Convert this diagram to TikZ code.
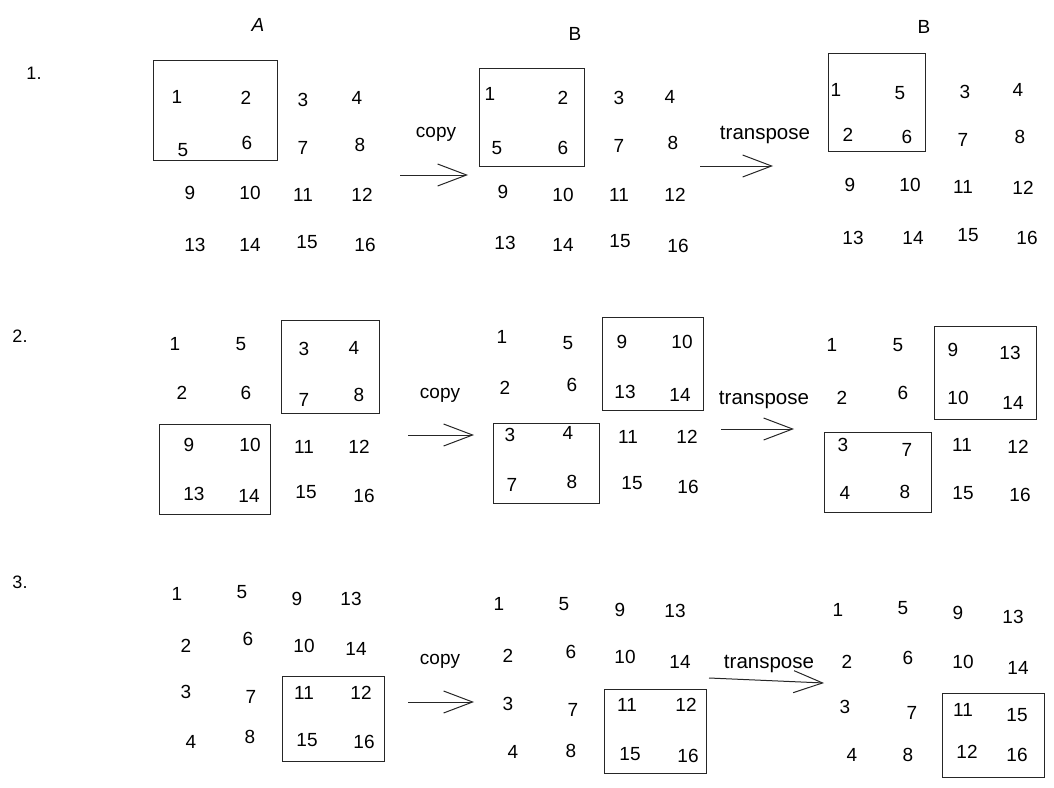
\documentclass[tikz,border=0pt]{standalone}
\usepackage{fontspec}
\setmainfont{Liberation Sans}
\usetikzlibrary{arrows.meta}
\begin{document}
\begin{tikzpicture}[x=1pt,y=-1pt,
  num/.style={inner sep=0pt, font=\fontsize{19}{19}\selectfont},
  lbl/.style={inner sep=0pt, font=\fontsize{19}{19}\selectfont},
  wide/.style={inner sep=0pt, font=\fontsize{20.5}{21}\selectfont},
  sec/.style={inner sep=0pt, font=\fontsize{18}{18}\selectfont},
  hdr/.style={inner sep=0pt, font=\fontsize{19}{19}\selectfont},
  blk/.style={draw=black!85, line width=1pt, inner sep=0pt},
  arr/.style={draw=black!85, line width=1pt, -{Straight Barb[length=29pt,width=22pt,line width=1pt]}}]
\useasboundingbox (0,0) rectangle (1054,787);
% titles
\node[hdr,font=\fontsize{19}{19}\selectfont\itshape] (tA) at (258,25) {A};
\node[hdr] (tB1) at (575,34) {B};
\node[hdr] (tB2) at (924,27) {B};
\node[sec] (s1) at (34,73) {1.};
\node[sec] (s2) at (20,336) {2.};
\node[sec] (s3) at (20,582) {3.};
% ---------- row 1 ----------
\node[blk, minimum width=124pt, minimum height=100pt] (r1b1) at (215,110) {};
\node[blk, minimum width=105pt, minimum height=98pt] (r1b2) at (531.5,117) {};
\node[blk, minimum width=97pt, minimum height=98pt] (r1b3) at (876.5,102) {};
\foreach \n/\x/\y in {1/177/97,2/246/98,3/303/100,4/357/98,5/183/150,6/247/143,7/303/148,8/360/145,9/190/193,10/250/193,11/303/195,12/362/195,13/195/245,14/250/245,15/307/242,16/365/245}
  \node[num] (r1a\n) at (\x,\y) {\n};
\foreach \n/\x/\y in {1/490/94,2/563/98,3/619/98,4/670/97,5/497/148,6/563/148,7/619/146,8/673/143,9/503/192,10/563/195,11/619/195,12/675/195,13/505/243,14/563/245,15/620/241,16/678/246}
  \node[num] (r1b\n) at (\x,\y) {\n};
\foreach \n/\x/\y in {1/836/90,5/900/93,3/965/92,4/1018/90,2/848/135,6/907/137,7/963/140,8/1020/137,9/850/185,10/910/185,11/963/187,12/1023/188,13/853/238,14/913/238,15/968/235,16/1027/238}
  \node[num] (r1c\n) at (\x,\y) {\n};
\node[lbl] (r1copy) at (436,134) {copy};
\node[wide] (r1tr) at (765,135) {transpose};
\coordinate (r1p) at (400,175); \coordinate (r1q) at (468,175);
\coordinate (r1r) at (700,166); \coordinate (r1s) at (773,166);
\draw[arr] (r1p) -- (r1q);
\draw[arr] (r1r) -- (r1s);
% ---------- row 2 ----------
\node[blk, minimum width=98.5pt, minimum height=93pt] (r2b1) at (330.25,366.5) {};
\node[blk, minimum width=111pt, minimum height=90pt] (r2b2) at (214.5,469) {};
\node[blk, minimum width=101pt, minimum height=93pt] (r2b3) at (652.5,363.5) {};
\node[blk, minimum width=106pt, minimum height=80pt] (r2b4) at (546,463) {};
\node[blk, minimum width=102pt, minimum height=93pt] (r2b5) at (985,372.5) {};
\node[blk, minimum width=107pt, minimum height=80pt] (r2b6) at (877.5,472) {};
\foreach \n/\x/\y in {1/175/344,5/241/344,3/304/349,4/354/348,2/182/393,6/246/393,7/304/400,8/359/395,9/189/445,10/250/445,11/304/447,12/359/447,13/194/494,14/249/496,15/306/492,16/364/496}
  \node[num] (r2a\n) at (\x,\y) {\n};
\foreach \n/\x/\y in {1/502/337,5/568/343,2/505/388,6/572/385,9/622/342,10/682/342,13/625/392,14/680/395,3/510/435,4/568/433,7/512/485,8/572/482,11/628/437,12/687/437,15/632/483,16/688/487}
  \node[num] (r2b\n) at (\x,\y) {\n};
\foreach \n/\x/\y in {1/832/345,5/898/345,2/842/398,6/903/393,9/953/350,13/1010/353,10/958/398,14/1013/403,3/843/445,7/907/450,4/845/493,8/905/492,11/962/445,12/1018/447,15/963/493,16/1020/495}
  \node[num] (r2c\n) at (\x,\y) {\n};
\node[lbl] (r2copy) at (440,395) {copy};
\node[wide] (r2tr) at (764,400) {transpose};
\coordinate (r2p) at (408,435); \coordinate (r2q) at (474,435);
\coordinate (r2r) at (721,429); \coordinate (r2s) at (794,429);
\draw[arr] (r2p) -- (r2q);
\draw[arr] (r2r) -- (r2s);
% ---------- row 3 ----------
\node[blk, minimum width=102pt, minimum height=85pt] (r3b1) at (333,718.5) {};
\node[blk, minimum width=102pt, minimum height=84pt] (r3b2) at (655,731) {};
\node[blk, minimum width=102pt, minimum height=84pt] (r3b3) at (993,735) {};
\foreach \n/\x/\y in {1/177/594,5/242/592,9/297/599,13/351/599,2/186/646,6/248/639,10/304/646,14/356/649,3/186/692,7/251/697,11/304/693,12/361/693,4/191/742,8/250/737,15/307/740,16/364/742}
  \node[num] (r3a\n) at (\x,\y) {\n};
\foreach \n/\x/\y in {1/499/604,5/564/604,9/620/610,13/675/611,2/508/656,6/571/652,10/625/657,14/680/662,3/508/704,7/573/710,11/627/705,12/686/705,4/513/752,8/571/751,15/630/754,16/688/756}
  \node[num] (r3b\n) at (\x,\y) {\n};
\foreach \n/\x/\y in {1/838/610,5/903/608,9/958/613,13/1013/617,2/847/662,6/908/658,10/963/662,14/1018/668,3/845/707,7/912/713,11/963/710,15/1017/715,4/852/755,8/908/755,12/967/752,16/1017/755}
  \node[num] (r3c\n) at (\x,\y) {\n};
\node[lbl] (r3copy) at (440,661) {copy};
\node[wide] (r3tr) at (769,664) {transpose};
\coordinate (r3p) at (408,702); \coordinate (r3q) at (474,702);
\coordinate (r3r) at (709,678); \coordinate (r3s) at (824,683);
\draw[arr] (r3p) -- (r3q);
\draw[arr] (r3r) -- (r3s);
\end{tikzpicture}
\end{document}
